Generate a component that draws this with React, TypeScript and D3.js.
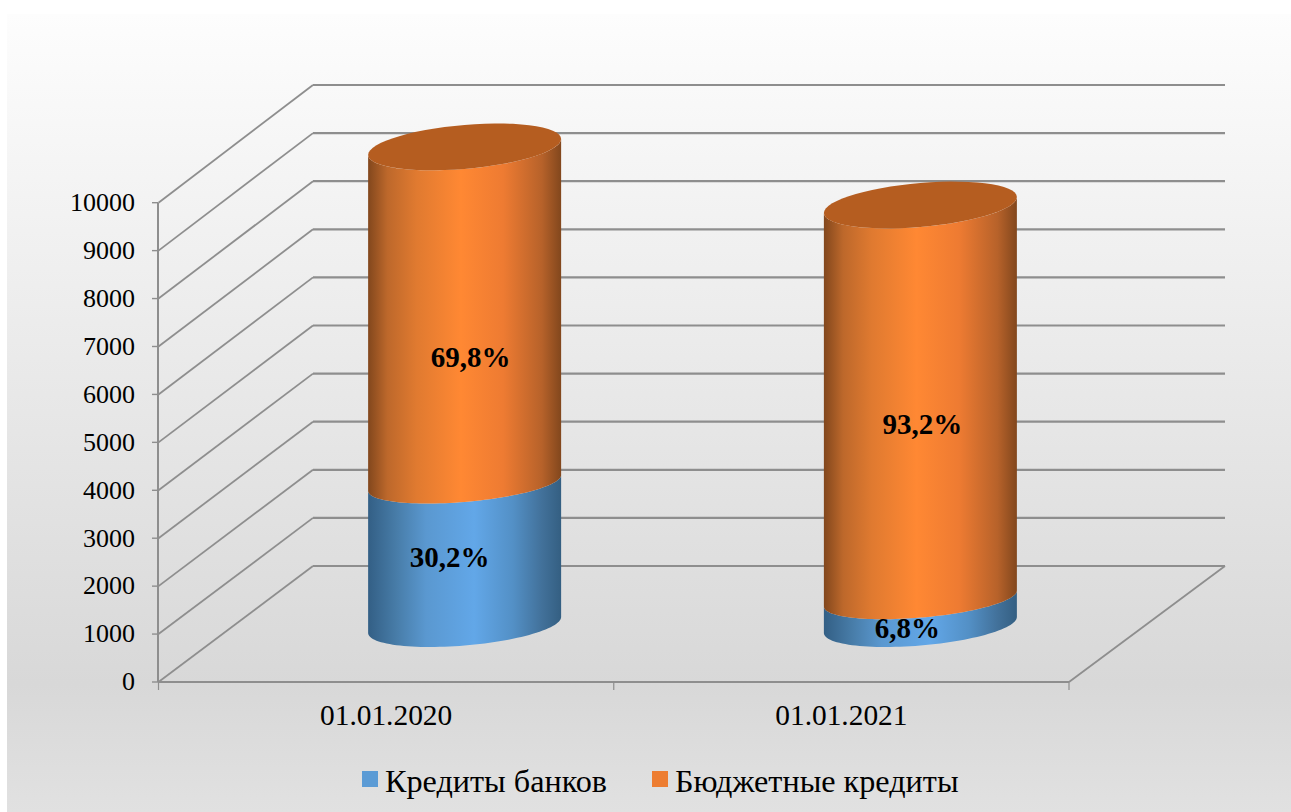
import React from 'react';
import * as d3 from 'd3';

const categories = ['01.01.2020', '01.01.2021'];
const seriesNames = ['Кредиты банков', 'Бюджетные кредиты'];
const bankCredits = [2960, 550];
const budgetCredits = [7000, 8200];
const bankLabels = ['30,2%', '6,8%'];
const budgetLabels = ['69,8%', '93,2%'];
const yTicks = [0, 1000, 2000, 3000, 4000, 5000, 6000, 7000, 8000, 9000, 10000];

const serif = '"Liberation Serif", "Times New Roman", serif';

// cylinder outline is a sheared ellipse: left edge sits lower than right edge
// b is the half height of the ellipse
const arcPoints = (cx: number, cy: number, from: number, to: number, b: number) => {
    const a = 96.5, shear = 8;
    return d3.range(0, 61).map(i => {
        const t = from + (to - from) * i / 60;
        return [cx + a * Math.cos(t), cy - shear * Math.cos(t) + b * Math.sin(t)] as [number, number];
    });
};

const addGradient = (defs: any, id: string, stops: [number, string][]) => {
    const g = defs.append('linearGradient').attr('id', id);
    stops.forEach(([o, c]) => g.append('stop').attr('offset', o).attr('stop-color', c));
};

const App = () => {
    const svgRef = React.useRef<SVGSVGElement>(null);
    React.useEffect(() => {
        const width = 1291, height = 812;
        const svg = d3.select(svgRef.current);
        svg.selectAll('*').remove();

        const defs = svg.append('defs');
        const bg = defs.append('linearGradient').attr('id', 'bg').attr('x2', 0).attr('y2', 1);
        [[0, '#fdfdfd'], [0.84, '#d8d8d8'], [1, '#e1e1e1']].forEach(([o, c]) =>
            bg.append('stop').attr('offset', o).attr('stop-color', c));
        addGradient(defs, 'orangeSide', [[0, '#82471d'], [0.1, '#bd682b'], [0.25, '#e07a30'], [0.48, '#ff8833'], [0.7, '#ee7b32'], [0.9, '#b7622a'], [1, '#82471d']]);
        addGradient(defs, 'blueSide', [[0, '#335f85'], [0.15, '#487da9'], [0.3, '#5a98d0'], [0.55, '#62a7e8'], [0.75, '#5390c6'], [0.9, '#42719a'], [1, '#345f82']]);

        svg.append('rect').attr('width', width).attr('height', height).attr('fill', '#fff');
        svg.append('rect').attr('x', 7).attr('y', 14).attr('width', width - 7).attr('height', height - 14).attr('fill', 'url(#bg)');

        const yFront = d3.scaleLinear().domain([0, 10000]).range([682, 202.7]);
        const yBack = d3.scaleLinear().domain([0, 10000]).range([566, 85]);
        const yMid = d3.scaleLinear().domain([0, 10000]).range([625, 145]);
        const xFront = d3.scaleBand().domain(categories).range([158.5, 1069]);
        const xBar = d3.scaleBand().domain(categories).range([159.5, 1071]);
        const depth = 154.5;
        const grid = '#8e8e8e';

        // walls and floor
        yTicks.forEach(v => {
            svg.append('path')
                .attr('d', `M158.5,${yFront(v)}L${158.5 + depth},${yBack(v)}`)
                .attr('fill', 'none').attr('stroke', grid).attr('stroke-width', 1.8);
            svg.append('line')
                .attr('x1', 158.5 + depth).attr('x2', 1225).attr('y1', yBack(v)).attr('y2', yBack(v))
                .attr('stroke', grid).attr('stroke-width', 2.2);
        });
        svg.append('path')
            .attr('d', `M1225,${yBack(0)}L1069,${yFront(0)}`)
            .attr('fill', 'none').attr('stroke', grid).attr('stroke-width', 1.8);

        const axisLeft = d3.axisLeft(yFront).tickValues(yTicks).tickSize(6).tickSizeOuter(0).tickPadding(17).offset(0).tickFormat(d3.format('d') as any);
        const gy = svg.append('g').attr('transform', 'translate(158,0)').call(axisLeft as any);
        gy.selectAll('text').attr('font-family', serif).attr('font-size', 26).attr('fill', '#000').attr('dy', '0.32em');
        gy.selectAll('line').attr('stroke', grid).attr('stroke-width', 1.4);
        gy.select('.domain').attr('stroke', grid).attr('stroke-width', 2);

        svg.append('line').attr('x1', 158).attr('x2', 1069).attr('y1', yFront(0)).attr('y2', yFront(0))
            .attr('stroke', grid).attr('stroke-width', 2.2);
        [158.5, ...categories.map(c => (xFront(c) as number) + xFront.bandwidth())].forEach(x => {
            svg.append('line').attr('x1', x).attr('x2', x).attr('y1', 682).attr('y2', 690)
                .attr('stroke', grid).attr('stroke-width', 1.2);
        });
        categories.forEach(c => {
            svg.append('text')
                .attr('x', (xFront(c) as number) + xFront.bandwidth() / 2).attr('y', 725)
                .attr('text-anchor', 'middle').attr('font-family', serif).attr('font-size', 29.4)
                .text(c);
        });

        // cylinders
        const rows = categories.map((c, i) => ({ c, bank: bankCredits[i], budget: budgetCredits[i] }));
        const stacked = d3.stack<any>().keys(['bank', 'budget'])(rows);
        const line = d3.line();
        const sides = ['url(#blueSide)', 'url(#orangeSide)'];
        stacked.forEach((layer, s) => {
            layer.forEach((d, i) => {
                const cx = (xBar(categories[i]) as number) + xBar.bandwidth() / 2 + depth / 2;
                const top = yMid(d[1]), bottom = yMid(d[0]);
                const lower = arcPoints(cx, bottom, Math.PI, 0, s === 0 ? 20.5 : 19);
                const topArc = arcPoints(cx, top, 0, Math.PI, s === 0 ? 19 : 22);
                svg.append('path')
                    .attr('d', (line([...lower, ...topArc]) as string) + 'Z')
                    .attr('fill', sides[s]);
                if (s === 1) {
                    svg.append('path')
                        .attr('d', (line(arcPoints(cx, top, 0, Math.PI * 2, 22)) as string) + 'Z')
                        .attr('fill', '#b55d20');
                }
            });
        });

        // Excel left the data labels off-centre, so they get their own nudges
        const labelNudge = [[[-15, 4], [-13, 17]], [[6, 43], [2, 23]]];
        stacked.forEach((layer, s) => {
            const texts = s === 0 ? bankLabels : budgetLabels;
            layer.forEach((d, i) => {
                const cx = (xBar(categories[i]) as number) + xBar.bandwidth() / 2 + depth / 2;
                const [nx, ny] = labelNudge[s][i];
                svg.append('text')
                    .attr('x', cx + nx).attr('y', yMid((d[0] + d[1]) / 2) + ny)
                    .attr('dy', '0.32em')
                    .attr('text-anchor', 'middle').attr('font-family', serif)
                    .attr('font-size', 29).attr('font-weight', 'bold')
                    .text(texts[i]);
            });
        });

        // legend
        const legendColor = d3.scaleOrdinal<string>().domain(seriesNames).range(['#5b9bd5', '#ed7d31']);
        const legendX = d3.scaleOrdinal<number>().domain(seriesNames).range([362, 652]);
        seriesNames.forEach(n => {
            svg.append('rect').attr('x', legendX(n)).attr('y', 771).attr('width', 16).attr('height', 16)
                .attr('fill', legendColor(n));
            svg.append('text').attr('x', legendX(n) + 23).attr('y', 792)
                .attr('font-family', serif).attr('font-size', 32.2).text(n);
        });
    }, []);

    return <svg ref={svgRef} width={1291} height={812} style={{ position: 'absolute', left: 0, top: 0 }} />;
};

export default App;
